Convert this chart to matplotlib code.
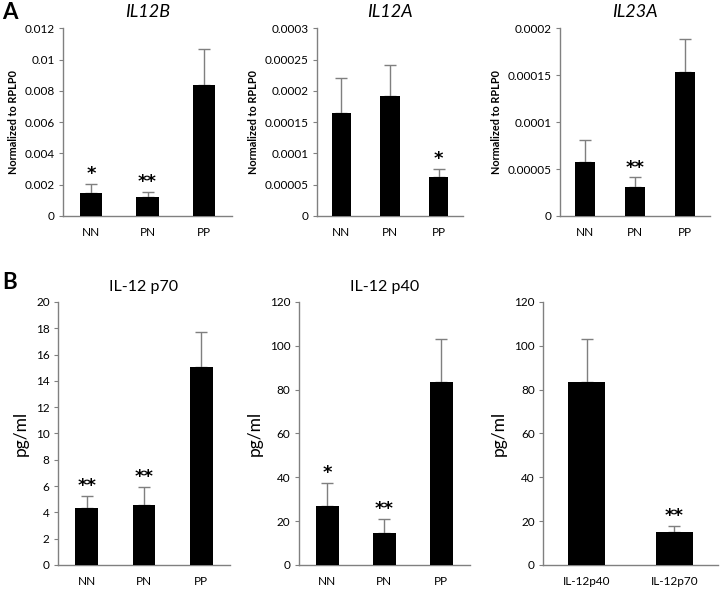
import matplotlib
matplotlib.use("Agg")
import matplotlib.pyplot as plt

plt.rcParams['font.family'] = ['Lato', 'DejaVu Sans']

groups = ["NN", "PN", "PP"]

il12b_mean = [0.00145, 0.0012, 0.0084]
il12b_err = [0.0006, 0.00035, 0.0023]
il12b_sig = ["*", "**", ""]

il12a_mean = [0.000165, 0.000192, 0.000062]
il12a_err = [0.000055, 0.000049, 0.000013]
il12a_sig = ["", "", "*"]

il23a_mean = [0.000058, 0.000031, 0.000153]
il23a_err = [0.000023, 0.000010, 0.000036]
il23a_sig = ["", "**", ""]

p70_mean = [4.3, 4.55, 15.05]
p70_err = [0.95, 1.35, 2.65]
p70_sig = ["**", "**", ""]

p40_mean = [26.7, 14.7, 83.5]
p40_err = [10.6, 6.3, 19.5]
p40_sig = ["*", "**", ""]

cmp_labels = ["IL-12p40", "IL-12p70"]
cmp_mean = [83.5, 15.0]
cmp_err = [19.5, 2.7]
cmp_sig = ["", "**"]

fig = plt.figure(figsize=(7.27, 5.9), dpi=100)

specs = [
    ([0.0867, 0.634, 0.2325, 0.318], groups, il12b_mean, il12b_err, il12b_sig,
     0.012, [0, 0.002, 0.004, 0.006, 0.008, 0.01, 0.012],
     ["0", "0.002", "0.004", "0.006", "0.008", "0.01", "0.012"],
     "Normalized to RPLP0", "IL12B", True),
    ([0.436, 0.634, 0.2008, 0.318], groups, il12a_mean, il12a_err, il12a_sig,
     0.0003, [0, 0.00005, 0.0001, 0.00015, 0.0002, 0.00025, 0.0003],
     ["0", "0.00005", "0.0001", "0.00015", "0.0002", "0.00025", "0.0003"],
     "Normalized to RPLP0", "IL12A", True),
    ([0.770, 0.634, 0.206, 0.318], groups, il23a_mean, il23a_err, il23a_sig,
     0.0002, [0, 0.00005, 0.0001, 0.00015, 0.0002],
     ["0", "0.00005", "0.0001", "0.00015", "0.0002"],
     "Normalized to RPLP0", "IL23A", True),
    ([0.0798, 0.0424, 0.2366, 0.4458], groups, p70_mean, p70_err, p70_sig,
     20, list(range(0, 21, 2)), [str(v) for v in range(0, 21, 2)],
     "pg/ml", "IL-12 p70", False),
    ([0.411, 0.0424, 0.235, 0.4458], groups, p40_mean, p40_err, p40_sig,
     120, list(range(0, 121, 20)), [str(v) for v in range(0, 121, 20)],
     "pg/ml", "IL-12 p40", False),
    ([0.747, 0.0424, 0.241, 0.4458], cmp_labels, cmp_mean, cmp_err, cmp_sig,
     120, list(range(0, 121, 20)), [str(v) for v in range(0, 121, 20)],
     "pg/ml", "", False),
]

for rect, labels, mean, err, sig, ymax, yt, ytl, ylab, title, italic in specs:
    ax = fig.add_axes(rect)
    x = list(range(len(labels)))
    bw = 0.4 if len(labels) == 3 else 0.42
    ax.bar(x, mean, width=bw, color="black", zorder=3)
    ax.errorbar(x, mean, yerr=[[0] * len(err), err], fmt="none",
                ecolor="#7f7f7f", elinewidth=1.0, capsize=4, capthick=1.0, zorder=2)
    for xi, m, e, s in zip(x, mean, err, sig):
        if s:
            ax.text(xi, m + e + ymax * 0.005, s, ha="center", va="bottom",
                    fontsize=13, fontweight="bold", family="DejaVu Sans")
    ax.set_xlim(-0.5, len(labels) - 0.5)
    ax.set_ylim(0, ymax)
    ax.set_yticks(yt)
    ax.set_yticklabels(ytl, fontsize=8.5)
    ax.set_xticks(x)
    ax.set_xticklabels(labels, fontsize=8.5)
    ax.tick_params(axis="x", length=0, pad=8)
    ax.tick_params(axis="y", length=3, color="#808080", pad=3)
    for sp in ["top", "right"]:
        ax.spines[sp].set_visible(False)
    for sp in ["left", "bottom"]:
        ax.spines[sp].set_color("#808080")
        ax.spines[sp].set_linewidth(1.0)
    if ylab.startswith("Normalized"):
        ax.set_ylabel(ylab, fontsize=7.8, fontweight="bold", labelpad=4)
    else:
        ax.set_ylabel(ylab, fontsize=12.5, labelpad=5)
    if title:
        if italic:
            ax.set_title(title, fontsize=13, style="italic", pad=8)
        else:
            ax.set_title(title, fontsize=11.5, pad=8)

fig.text(0.003, 0.978, "A", fontsize=16, fontweight="bold", ha="left", va="center")
fig.text(0.003, 0.522, "B", fontsize=16, fontweight="bold", ha="left", va="center")

fig.savefig("out.png", dpi=100)
